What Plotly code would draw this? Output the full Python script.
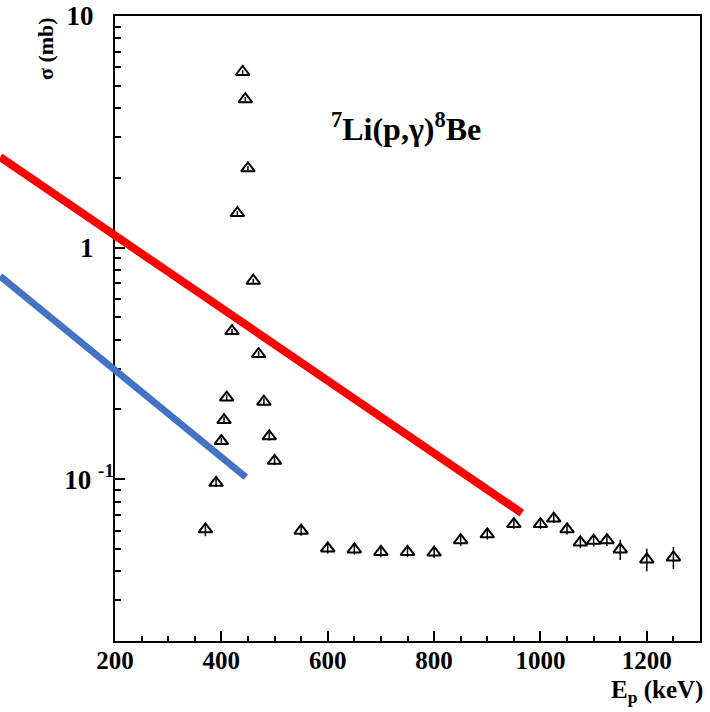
import plotly.graph_objects as go
import numpy as np

# ---- data ----
energy_keV = [370, 390, 400, 405, 410, 420, 430, 440, 445, 450, 460, 470, 480, 490, 500,
              550, 600, 650, 700, 750, 800, 850, 900, 950, 1000, 1025, 1050, 1075, 1100,
              1125, 1150, 1200, 1250]
sigma_mb = [0.0607, 0.0964, 0.146, 0.180, 0.225, 0.436, 1.41, 5.73, 4.37, 2.20, 0.719,
            0.347, 0.216, 0.153, 0.120,
            0.0599, 0.0502, 0.0497, 0.0485, 0.0485, 0.0482, 0.0545, 0.0578, 0.0640,
            0.0640, 0.0676, 0.0607, 0.0533, 0.0542, 0.0545, 0.0497, 0.0450, 0.0459]
sigma_err = [0.004, 0.004, 0.005, 0.006, 0.007, 0.01, 0.03, 0.1, 0.1, 0.05, 0.015,
             0.01, 0.007, 0.006, 0.005,
             0.003, 0.0025, 0.0025, 0.0025, 0.0025, 0.0025, 0.003, 0.003, 0.003,
             0.003, 0.003, 0.003, 0.003, 0.003, 0.003, 0.005, 0.005, 0.005]

red_line_E = [-16, 965]
red_line_sigma = [2.46, 0.0713]
blue_line_E = [-16, 446]
blue_line_sigma = [0.753, 0.102]

x_ticks = [200, 400, 600, 800, 1000, 1200]
y_ticks = [0.1, 1, 10]
y_ticktext = ["10&nbsp;<sup>-1</sup>", "1&nbsp;&nbsp;&nbsp;", "10&nbsp;&nbsp;&nbsp;"]
x_range = [200, 1300]
y_range = [np.log10(0.02), 1.0]

# ---- layout geometry ----
W, H = 710, 712
ml, mr, mt, mb = 0, 10, 16, 71
plot_w = W - ml - mr
plot_h = H - mt - mb
frame_left_px = 115
dom_x0 = frame_left_px / plot_w
px_per_keV = (plot_w - frame_left_px) / (x_range[1] - x_range[0])
x2_range = [x_range[0] - frame_left_px / px_per_keV, x_range[1]]

FONT = "Liberation Serif"

fig = go.Figure()

fig.add_trace(go.Scatter(
    x=energy_keV, y=sigma_mb, mode="markers",
    marker=dict(symbol="triangle-up-open", size=12, color="black",
                line=dict(width=2, color="black")),
    error_y=dict(type="data", array=sigma_err, visible=True, color="black",
                 thickness=1.5, width=0),
    xaxis="x", yaxis="y", showlegend=False, hoverinfo="x+y"))

fig.add_trace(go.Scatter(
    x=red_line_E, y=red_line_sigma, mode="lines",
    line=dict(color="#ff0000", width=8),
    xaxis="x2", yaxis="y2", showlegend=False))
fig.add_trace(go.Scatter(
    x=blue_line_E, y=blue_line_sigma, mode="lines",
    line=dict(color="#4472c4", width=7),
    xaxis="x2", yaxis="y2", showlegend=False))

x_font = dict(family=FONT, size=25, color="black", weight="bold")
y_font = dict(family=FONT, size=27, color="black", weight="bold")

fig.update_layout(
    width=W, height=H,
    margin=dict(l=ml, r=mr, t=mt, b=mb, pad=0, autoexpand=False),
    paper_bgcolor="white", plot_bgcolor="rgba(0,0,0,0)",
    xaxis=dict(domain=[dom_x0, 1], range=x_range, anchor="y", automargin=False,
               tickmode="array", tickvals=x_ticks, ticks="inside", ticklen=10,
               tickwidth=1.5, tickcolor="black",
               minor=dict(ticks="inside", ticklen=5, dtick=50, tick0=0,
                          tickwidth=1.5, tickcolor="black", showgrid=False),
               showline=True, linecolor="black", linewidth=1.5, mirror=True,
               showgrid=False, zeroline=False, tickfont=x_font,
               ticklabelstandoff=-4),
    yaxis=dict(domain=[0, 1], type="log", range=y_range, anchor="x",
               automargin=False,
               tickmode="array", tickvals=y_ticks, ticktext=y_ticktext,
               ticks="inside", ticklen=10, tickwidth=1.5, tickcolor="black",
               minor=dict(ticks="inside", ticklen=6, dtick="D1",
                          tickwidth=1.5, tickcolor="black", showgrid=False),
               showline=True, linecolor="black", linewidth=1.5, mirror=True,
               showgrid=False, zeroline=False, tickfont=y_font,
               ticklabelstandoff=-6),
    xaxis2=dict(domain=[0, 1], range=x2_range, anchor="y2", visible=False,
                automargin=False),
    yaxis2=dict(domain=[0, 1], type="log", range=y_range, anchor="x2",
                visible=False, automargin=False),
    annotations=[
        dict(text="σ (mb)", textangle=-90, xref="paper", yref="paper",
             x=45 / plot_w, y=(641 - 48) / plot_h, xanchor="center",
             yanchor="middle",
             showarrow=False, font=dict(family=FONT, size=22, color="black",
                                        weight="bold")),
        dict(text="E<sub>p</sub> (keV)", xref="paper", yref="paper",
             x=1.007, y=(641 - 692) / plot_h, xanchor="right", yanchor="middle",
             showarrow=False, font=dict(family=FONT, size=25, color="black",
                                        weight="bold")),
        dict(text="<sup>7</sup>Li(p,γ)<sup>8</sup>Be", xref="paper", yref="paper",
             x=406 / plot_w, y=(641 - 127) / plot_h, xanchor="center",
             yanchor="middle", showarrow=False,
             font=dict(family=FONT, size=32, color="black", weight="bold")),
    ],
)

fig.write_html("out.html")
